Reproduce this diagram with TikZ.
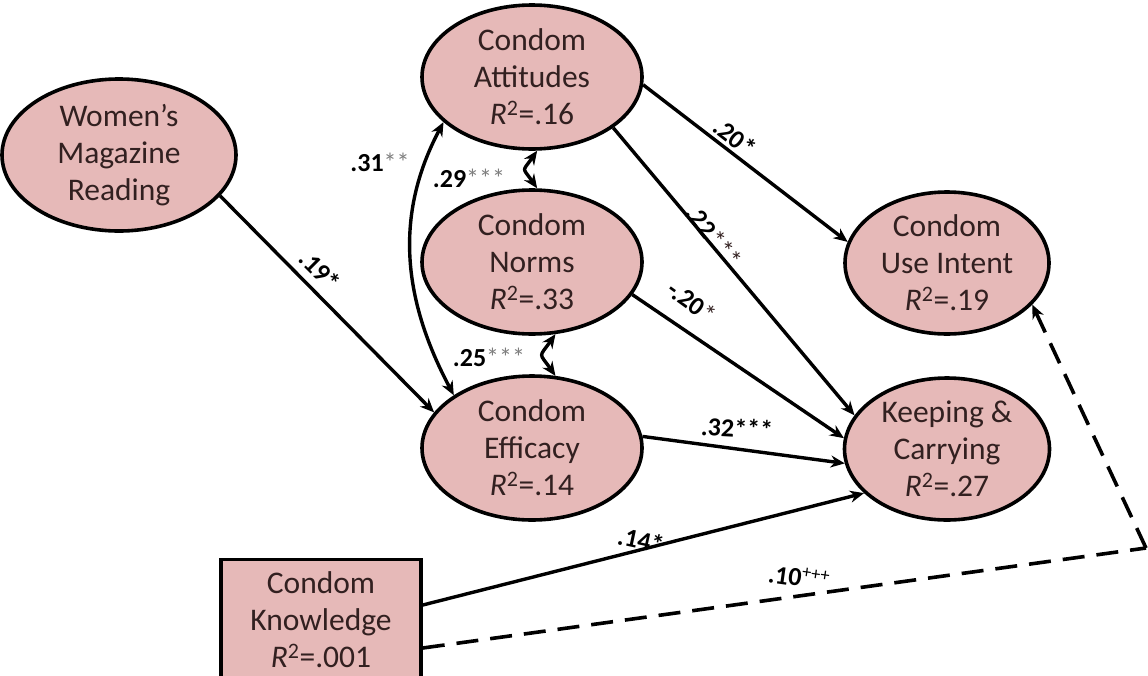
\documentclass[tikz,border=0pt]{standalone}
\usepackage{fontspec}
\setmainfont{Carlito}
\usetikzlibrary{shapes.geometric,arrows.meta}
\definecolor{pinkfill}{RGB}{230,185,184}
\definecolor{txt}{RGB}{50,32,32}
\definecolor{astgray}{RGB}{125,125,125}
\begin{document}
\begin{tikzpicture}[x=1pt,y=-1pt,
  var/.style={ellipse,draw,line width=3.6pt,fill=pinkfill,minimum width=220pt,minimum height=144pt,inner sep=0pt},
  vtext/.style={align=center,font=\fontsize{31.5}{37}\selectfont,text=txt,inner sep=0pt},
  effect/.style={line width=3.4pt,-{Stealth[length=14pt,width=12pt]}},
  corr/.style={line width=3.4pt,{Stealth[length=14pt,width=12pt]}-{Stealth[length=14pt,width=12pt]}},
  dashline/.style={line width=3.6pt,dash pattern=on 22pt off 12pt},
  coef/.style={font=\fontsize{26}{28}\selectfont\bfseries,inner sep=0pt,text=black},
]
\clip (0,0) rectangle (1148,675);
\fill[white] (0,0) rectangle (1148,675);

% variables
\node[var,minimum width=234pt,minimum height=152pt] (wmr) at (119,155) {};
\node[vtext] (wmr-t) at (wmr) {Women’s\\Magazine\\Reading};
\node[var] (att) at (532,77) {};
\node[vtext] (att-t) at (att) {Condom\\Attitudes\\\textit{R}\textsuperscript{2}=.16};
\node[var] (nor) at (532,262) {};
\node[vtext] (nor-t) at (nor) {Condom\\Norms\\\textit{R}\textsuperscript{2}=.33};
\node[var] (eff) at (532,448) {};
\node[vtext] (eff-t) at (eff) {Condom\\Efficacy\\\textit{R}\textsuperscript{2}=.14};
\node[var,minimum width=204pt,minimum height=142pt] (int) at (947,263) {};
\node[vtext] (int-t) at (int) {Condom\\Use Intent\\\textit{R}\textsuperscript{2}=.19};
\node[var,minimum width=205pt,minimum height=142pt] (kc) at (947,449) {};
\node[vtext] (kc-t) at (kc) {Keeping \&\\Carrying\\\textit{R}\textsuperscript{2}=.27};
\node[draw,line width=3.6pt,fill=pinkfill,minimum width=200pt,minimum height=125pt,inner sep=0pt] (kno) at (321,622) {};
\node[vtext] (kno-t) at (321,620) {Condom\\Knowledge\\\textit{R}\textsuperscript{2}=.001};
\coordinate (corner) at (1146,548);

% paths
\draw[effect] (wmr.-22) -- (eff.160);
\draw[effect] (att.-4) -- (int.168);
\draw[effect] (att.-32) -- (kc.160);
\draw[effect] (nor.-18) -- (kc.174);
\draw[effect] (eff.6) -- (kc.-172);
\draw[effect] ([yshift=17pt]kno.east) -- (kc.-152);
\draw[dashline] ([yshift=-26pt]kno.east) -- (corner);
\draw[dashline,-{Stealth[length=14pt,width=12pt]}] (corner) -- (int.-26);

% correlations
\draw[corr] (att.-153) to[out=-118,in=118] (eff.146);
\draw[corr] (att.-86) to[out=-125,in=125,looseness=1.8] (nor.86);
\draw[corr] (nor.-72) to[out=-125,in=125,looseness=1.8] (eff.72);

% coefficients
\node[coef,rotate=-45] (c19) at (320,270) {.19*};
\node[coef,rotate=-38] (c20) at (735,137) {.20*};
\node[coef,rotate=-52] (c22) at (714,236) {.22\textcolor{txt}{\mdseries***}};
\node[coef,rotate=-36] (cm20) at (692,302) {-.20\textcolor{txt}{\mdseries*}};
\node[coef,rotate=-3] (c32) at (737,428) {.32***};
\node[coef,rotate=-12] (c14) at (641,540) {.14*};
\node[coef,rotate=-8] (c10) at (799,577) {.10\textsuperscript{\mdseries+++}};
\node[coef] (c31) at (380,162) {.31\textcolor{astgray}{\mdseries**}};
\node[coef] (c29) at (469,178) {.29\textcolor{astgray}{\mdseries***}};
\node[coef] (c25) at (489,357) {.25\textcolor{astgray}{\mdseries***}};
\end{tikzpicture}
\end{document}
